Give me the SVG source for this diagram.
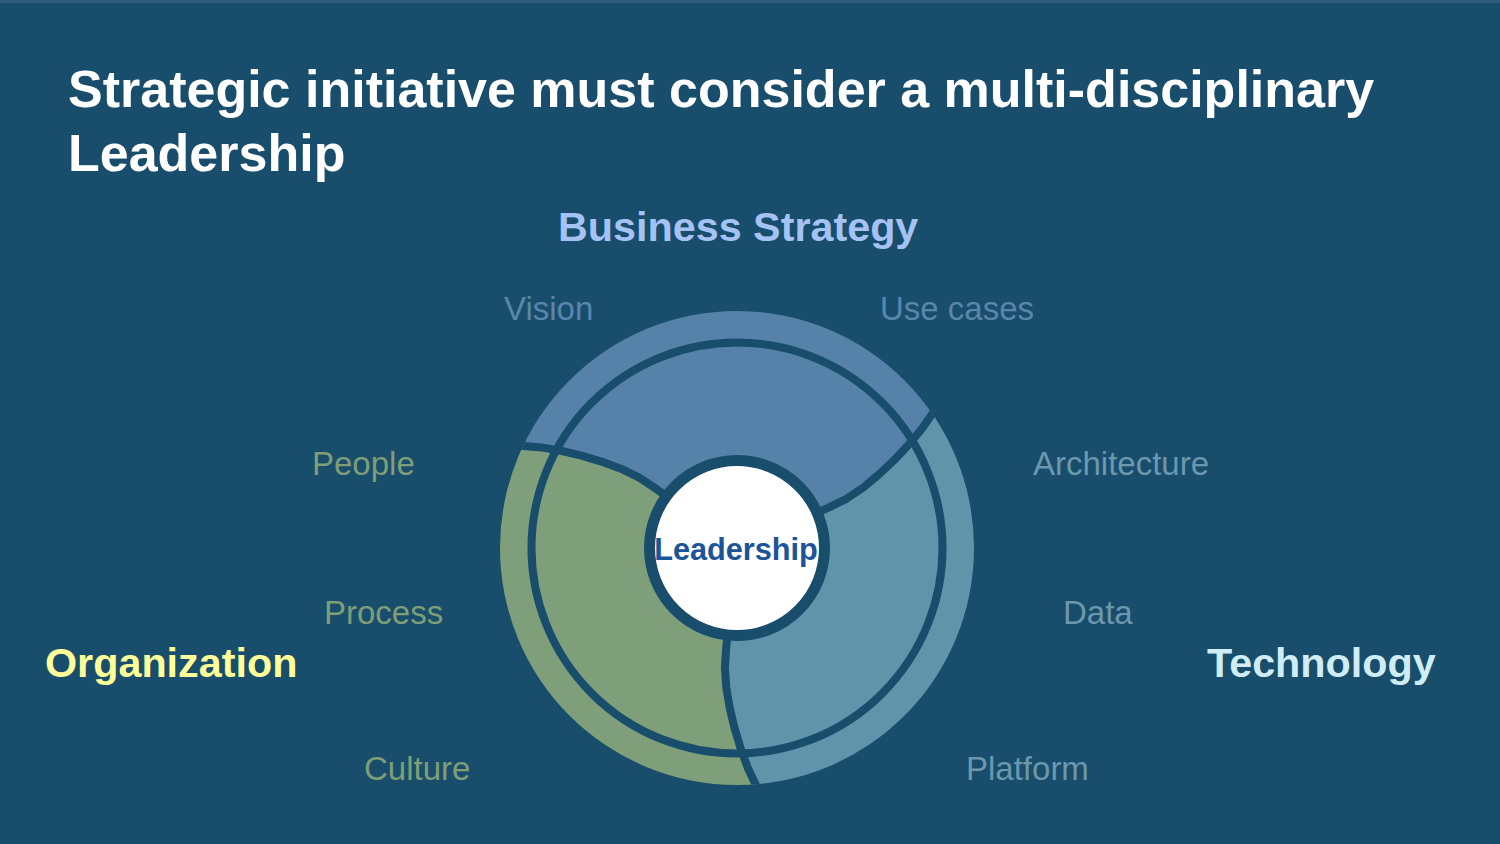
<svg xmlns="http://www.w3.org/2000/svg" width="1500" height="844" viewBox="0 0 1500 844">
  <defs>
    <style>
      .title { font-family: "Liberation Sans", Arial, sans-serif; font-weight: bold; font-size: 52px; fill: #FFFFFF; }
      .head { font-family: "Liberation Sans", Arial, sans-serif; font-weight: bold; font-size: 41.3px; }
      .sub { font-family: "Liberation Sans", Arial, sans-serif; font-size: 33px; }
      .gap { fill: none; stroke: #184D6B; stroke-width: 8; stroke-linejoin: round; stroke-linecap: butt; }
    </style>
    <clipPath id="disk">
      <circle cx="737" cy="548" r="237"/>
    </clipPath>
  </defs>

  <rect x="0" y="0" width="1500" height="844" fill="#184D6B"/>
  <rect x="0" y="0" width="1500" height="3" fill="#2E5C79"/>

  <g id="title">
    <text class="title" x="68" y="107">Strategic initiative must consider a multi-disciplinary</text>
    <text class="title" x="68" y="171">Leadership</text>
  </g>

  <g id="wheel" clip-path="url(#disk)">
    <g id="segment-business">
      <path fill="#5682AA" d="M737,548 L668.5,497.7 L656.3,488.9 L639.7,477.8 L621.5,468.9 L602.2,461.8 L582.4,455.8 L562.1,451.0 L541.3,447.4 L514.6,445.2 A245,245 0 0 1 937.2,406.8 L921.9,428.8 L908.4,445.0 L894.1,460.2 L879.0,474.4 L863.3,487.5 L846.5,498.8 L828.5,507.6 L814.8,513.8 Z"/>
    </g>
    <g id="segment-technology">
      <path fill="#5F94AA" d="M737,548 L814.8,513.8 L828.5,507.6 L846.5,498.8 L863.3,487.5 L879.0,474.4 L894.1,460.2 L908.4,445.0 L921.9,428.8 L937.2,406.8 A245,245 0 0 1 759.2,792.0 L747.7,767.7 L740.5,748.0 L734.5,728.0 L729.7,707.8 L726.3,687.6 L724.9,667.4 L726.2,647.4 L727.7,632.5 Z"/>
    </g>
    <g id="segment-organization">
      <path fill="#7F9E7A" d="M737,548 L727.7,632.5 L726.2,647.4 L724.9,667.4 L726.3,687.6 L729.7,707.8 L734.5,728.0 L740.5,748.0 L747.7,767.7 L759.2,792.0 A245,245 0 0 1 514.6,445.2 L541.3,447.4 L562.1,451.0 L582.4,455.8 L602.2,461.8 L621.5,468.9 L639.7,477.8 L656.3,488.9 L668.5,497.7 Z"/>
    </g>
    <g id="connectors">
      <circle class="gap" cx="737" cy="548" r="205.5"/>
      <polyline class="gap" points="668.5,497.7 656.3,488.9 639.7,477.8 621.5,468.9 602.2,461.8 582.4,455.8 562.1,451.0 541.3,447.4 514.6,445.2"/>
      <polyline class="gap" points="814.8,513.8 828.5,507.6 846.5,498.8 863.3,487.5 879.0,474.4 894.1,460.2 908.4,445.0 921.9,428.8 937.2,406.8"/>
      <polyline class="gap" points="727.7,632.5 726.2,647.4 724.9,667.4 726.3,687.6 729.7,707.8 734.5,728.0 740.5,748.0 747.7,767.7 759.2,792.0"/>
    </g>
  </g>

  <g id="leadership">
    <circle cx="737" cy="548" r="87.5" fill="#FFFFFF" stroke="#184D6B" stroke-width="11"/>
    <text x="736" y="560" text-anchor="middle" font-family="'Liberation Sans', Arial, sans-serif" font-weight="bold" font-size="30.7" fill="#1B5598">Leadership</text>
  </g>

  <g id="business-strategy">
    <text class="head" x="558" y="241" fill="#A4C2F4">Business Strategy</text>
    <text class="sub" x="504" y="320" fill="#5A86AD">Vision</text>
    <text class="sub" x="880" y="320" fill="#5A86AD">Use cases</text>
  </g>

  <g id="organization">
    <text class="head" x="45" y="677" fill="#FFFF99">Organization</text>
    <text class="sub" x="312" y="475" fill="#7E9E78">People</text>
    <text class="sub" x="324" y="624" fill="#7E9E78">Process</text>
    <text class="sub" x="364" y="780" fill="#7E9E78">Culture</text>
  </g>

  <g id="technology">
    <text class="head" x="1207" y="677" fill="#D0EDF5">Technology</text>
    <text class="sub" x="1033" y="475" fill="#6B98AD">Architecture</text>
    <text class="sub" x="1063" y="624" fill="#6B98AD">Data</text>
    <text class="sub" x="966" y="780" fill="#6B98AD">Platform</text>
  </g>
</svg>
